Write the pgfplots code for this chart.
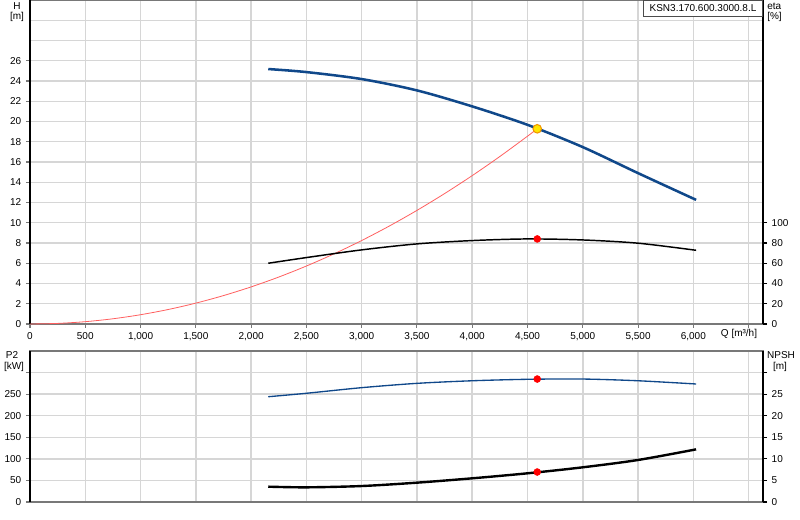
\documentclass[border=0pt]{standalone}
\usepackage{pgfplots}
\pgfplotsset{compat=1.18}
\usepackage{fontspec}
\setmainfont{Liberation Sans}
\definecolor{hblue}{RGB}{16,72,138}
\definecolor{gridc}{RGB}{214,214,214}
\definecolor{sysred}{RGB}{255,95,95}
\definecolor{axgray}{RGB}{120,120,120}
\definecolor{dutyy}{RGB}{255,230,0}
\definecolor{dutyo}{RGB}{240,150,0}

\pgfplotstableread{
Q H
2155 25.18
2500 24.88
3000 24.19
3500 23.07
4000 21.49
4500 19.67
5000 17.47
5500 14.90
6025 12.26
}\Hdata
\pgfplotstableread{
Q eta
2155 60.0
2500 65.6
3000 73.2
3500 79.1
4000 82.4
4500 84.0
5000 83.0
5500 79.8
6025 72.8
}\etadata
\pgfplotstableread{
Q H
0 0
250 0.057
500 0.229
750 0.515
1000 0.916
1250 1.431
1500 2.061
1750 2.805
2000 3.664
2250 4.637
2500 5.725
2750 6.927
3000 8.244
3250 9.675
3500 11.221
3750 12.881
4000 14.656
4250 16.545
4500 18.549
4588 19.28
}\sysdata
\pgfplotstableread{
Q P
2155 244
2500 252
3000 265
3500 275
4000 281
4500 284.4
5000 285
5500 281
6025 273.5
}\Pdata
\pgfplotstableread{
Q N
2155 3.55
2500 3.4
3000 3.7
3500 4.48
4000 5.49
4500 6.65
5000 8.04
5500 9.74
6025 12.2
}\Ndata

\pgfplotsset{
  base/.style={
    scale only axis, width=549.75pt, xmin=0, xmax=6630,
    tick label style={font=\fontsize{7.5}{9}\selectfont},
    /pgf/number format/assume math mode=true,
    tick align=outside, major tick length=3pt,
    clip=false,
  },
  gridaxis/.style={
    base, anchor=south west,
    axis line style={draw=axgray, line width=1pt},
    xtick={0,500,...,6500}, xticklabels={}, yticklabels={},
    tick style={draw=none},
    grid=major, grid style={gridc, line width=1.1pt},
  },
}

\begin{document}
\begin{tikzpicture}
\useasboundingbox (0pt,0pt) rectangle (600pt,390pt);

% ---------- top plot grid ----------
\begin{axis}[gridaxis, at={(22.5pt,147pt)}, height=243pt, ymin=0, ymax=32, ytick={0,2,...,32}]
\end{axis}

% ---------- top plot, left axis (H) ----------
\begin{axis}[base, at={(22.5pt,147pt)}, anchor=south west, height=243pt,
  ymin=0, ymax=32,
  axis x line*=bottom, axis y line*=left,
  x axis line style={-, draw=axgray, line width=1pt},
  y axis line style={-, draw=black, line width=0.8pt},
  xtick={0,500,...,6500},
  xticklabels={0,500,{1,000},{1,500},{2,000},{2,500},{3,000},{3,500},{4,000},{4,500},{5,000},{5,500},{6,000},{}},
  ytick={0,2,...,26},
  tick style={axgray, line width=0.8pt},
]
\addplot[sysred, line width=0.6pt, smooth] table[x=Q,y=H] {\sysdata};
\addplot[hblue, line width=1.9pt, smooth] table[x=Q,y=H] {\Hdata};
\addplot[only marks, mark=*, mark size=3.2pt, mark options={fill=dutyy, draw=dutyo, line width=0.8pt}] coordinates {(4588,19.28)};
\end{axis}

% ---------- top plot, right axis (eta) ----------
\begin{axis}[base, at={(22.5pt,147pt)}, anchor=south west, height=243pt,
  ymin=0, ymax=320,
  axis x line=none, axis y line*=right,
  y axis line style={-, draw=black, line width=0.8pt},
  ytick={0,20,...,100},
  tick style={black, line width=0.8pt},
]
\addplot[black, line width=1.1pt, smooth] table[x=Q,y=eta] {\etadata};
\addplot[only marks, mark=*, mark size=2.6pt, mark options={fill=red, draw=red}] coordinates {(4588,84.0)};
\end{axis}

% ---------- bottom plot grid ----------
\begin{axis}[gridaxis, at={(22.5pt,13.5pt)}, height=113.25pt, ymin=0, ymax=350, ytick={0,50,...,350}]
\end{axis}

% ---------- bottom plot, left axis (P2) ----------
\begin{axis}[base, at={(22.5pt,13.5pt)}, anchor=south west, height=113.25pt,
  ymin=0, ymax=350,
  axis x line*=bottom, axis y line*=left,
  x axis line style={-, draw=axgray, line width=1pt},
  y axis line style={-, draw=black, line width=0.8pt},
  xtick=\empty,
  ytick={0,50,...,300},
  yticklabels={0,50,100,150,200,250,{}},
  ytick style={axgray, line width=0.8pt},
]
\addplot[hblue, line width=1.0pt, smooth] table[x=Q,y=P] {\Pdata};
\addplot[only marks, mark=*, mark size=2.6pt, mark options={fill=red, draw=red}] coordinates {(4588,285)};
\end{axis}

% ---------- bottom plot, right axis (NPSH) ----------
\begin{axis}[base, at={(22.5pt,13.5pt)}, anchor=south west, height=113.25pt,
  ymin=0, ymax=35,
  axis x line=none, axis y line*=right,
  y axis line style={-, draw=black, line width=0.8pt},
  ytick={0,5,...,30},
  yticklabels={0,5,10,15,20,25,{}},
  tick style={black, line width=0.8pt},
]
\addplot[black, line width=1.8pt, smooth] table[x=Q,y=N] {\Ndata};
\addplot[only marks, mark=*, mark size=2.6pt, mark options={fill=red, draw=red}] coordinates {(4588,6.95)};
\end{axis}

% ---------- labels ----------
\begin{scope}[x=0.75pt,y=-0.75pt,yshift=390pt, every node/.style={font=\fontsize{7.5}{9}\selectfont, inner sep=0pt}]
\draw[black!70, line width=0.6pt, fill=white] (643,0.5) rectangle (762,16);
\node at (703,8) {KSN3.170.600.3000.8.L};
\node at (17,6) {H};
\node at (17,17) {[m]};
\node[anchor=west] at (767,6) {eta};
\node[anchor=west] at (767,17) {[\%]};
\node at (739,334) {Q [m³/h]};
\node at (12,355) {P2};
\node at (14,367) {[kW]};
\node at (781,355) {NPSH};
\node at (780,367) {[m]};
\end{scope}
\end{tikzpicture}
\end{document}
